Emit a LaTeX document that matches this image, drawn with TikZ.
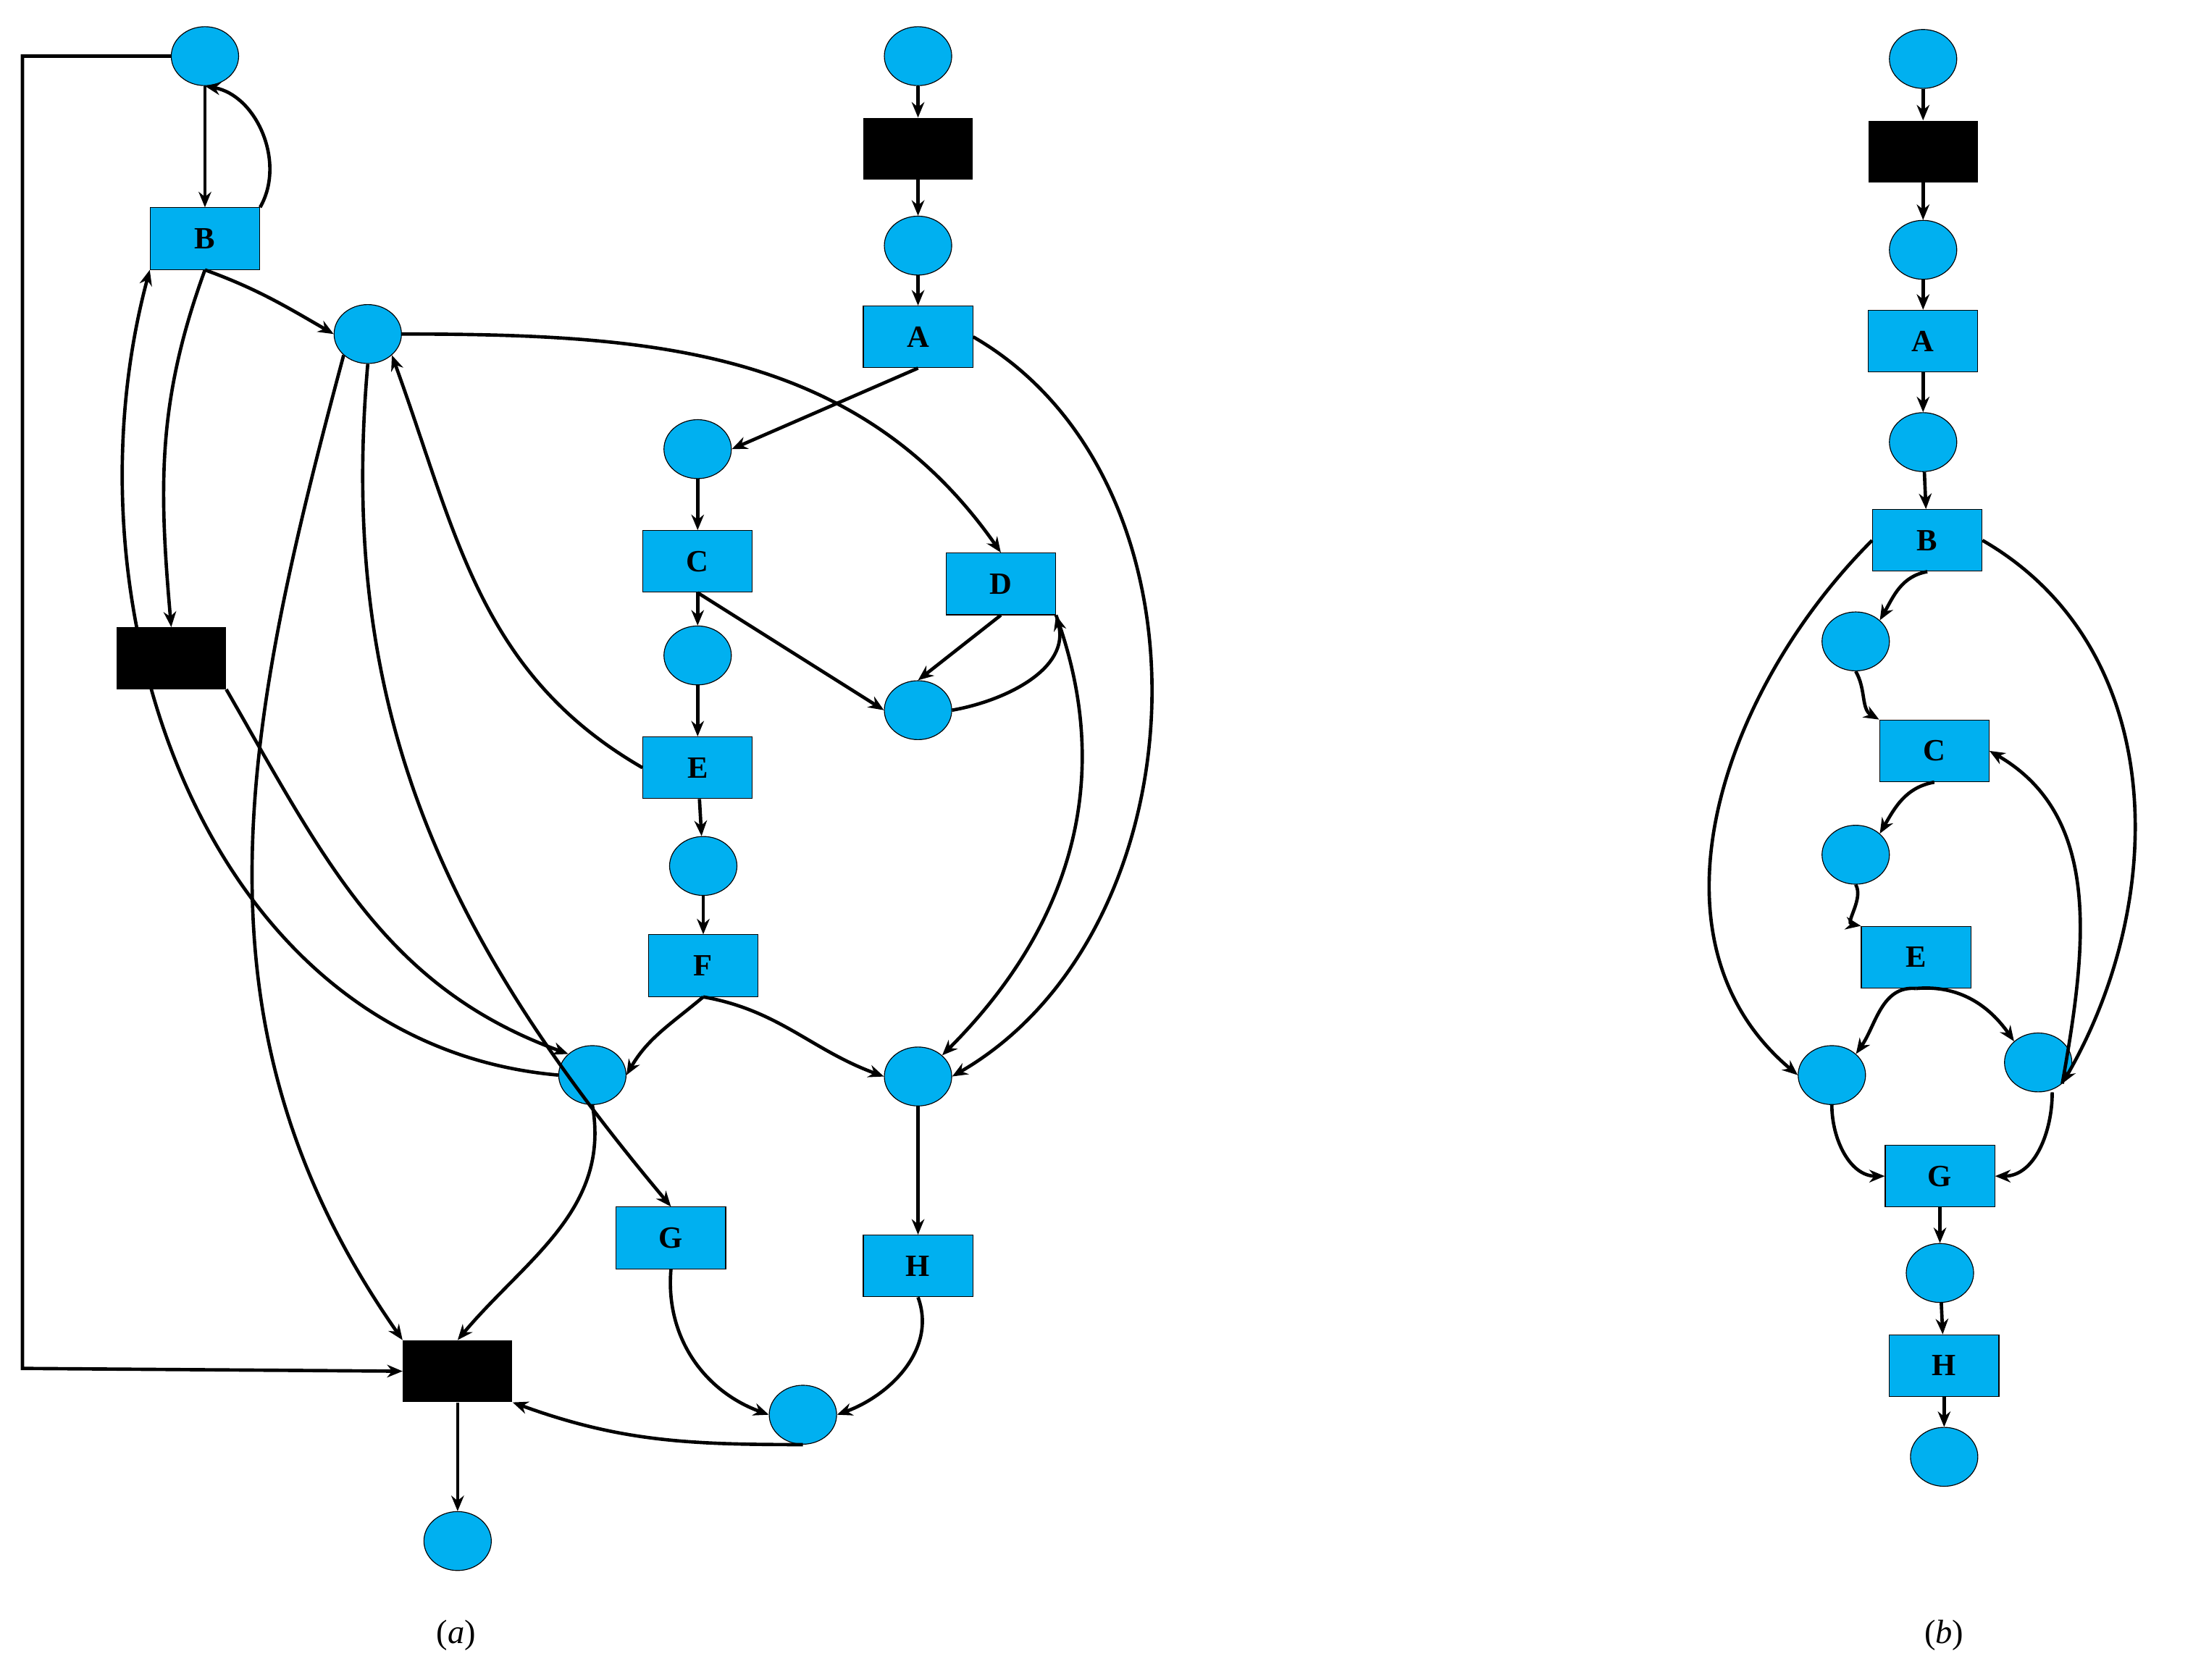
\documentclass[tikz,border=0pt]{standalone}
\usepackage{fontspec}
\setmainfont{Liberation Serif}
\usetikzlibrary{arrows.meta,shapes.geometric}
\definecolor{cy}{RGB}{0,176,240}
\begin{document}
\begin{tikzpicture}[x=1pt,y=-1pt,
 pl/.style={ellipse,draw=black,line width=0.6pt,fill=cy,minimum width=48pt,minimum height=42pt,inner sep=0},
 tr/.style={rectangle,draw=black,line width=0.6pt,fill=cy,minimum width=78pt,minimum height=44pt,inner sep=0,font=\fontsize{22}{26}\selectfont\bfseries},
 bk/.style={rectangle,fill=black,minimum width=78pt,minimum height=44pt,inner sep=0},
 e/.style={-{Stealth[length=11pt,width=9pt]},line width=2.4pt}]
\useasboundingbox (0,0) rectangle (1568,1197);
% (a)
\node[pl] (p1) at (146,40) {};
\node[tr] (B) at (146,170) {B};
\node[pl] (p2) at (262,238) {};
\node[bk] (k1) at (122,469) {};
\node[pl] (t2) at (654,40) {};
\node[bk] (k2) at (654,106) {};
\node[pl] (p3) at (654,175) {};
\node[tr] (A) at (654,240) {A};
\node[pl] (pC) at (497,320) {};
\node[tr] (C) at (497,400) {C};
\node[pl] (pE) at (497,467) {};
\node[tr] (E) at (497,547) {E};
\node[pl] (pF) at (501,617) {};
\node[tr] (F) at (501,688) {F};
\node[tr] (D) at (713,416) {D};
\node[pl] (pD) at (654,506) {};
\node[pl] (pG) at (422,766) {};
\node[pl] (pH) at (654,767) {};
\node[tr] (G) at (478,882) {G};
\node[tr] (H) at (654,902) {H};
\node[pl] (pJ) at (572,1008) {};
\node[bk] (k3) at (326,977) {};
\node[pl] (pe) at (326,1098) {};
\node[font=\fontsize{24}{28}\selectfont] (la) at (325,1165) {(\textit{a})};
\node[font=\fontsize{24}{28}\selectfont] (lb) at (1385,1165) {(\textit{b})};
\coordinate (c1) at (16,40); \coordinate (c2) at (16,975);
\draw[e] (p1) -- (B);
\draw[e] (B.north east) to[out=60,in=-10] (p1.south);
\draw[e] (p1.west) -- (c1) -- (c2) -- (k3.west);
\draw[e] (B.south) to[out=-20,in=150] (p2.west);
\draw[e] (B.south) to[out=-110,in=95] (k1.north);
\draw[e] (k1.south east) to[out=-60,in=160] (pG.north west);
\draw[e] (pG.west) to[out=175,in=-105] (B.south west);
\draw[e] (pG.south) to[out=-80,in=50] (k3.north);
\draw[e] (F.south) to[out=-140,in=60] (pG.east);
\draw[e] (F.south) to[out=-10,in=160] (pH.west);
\draw[e] (p2.south west) to[out=-105,in=125] (k3.north west);
\draw[e] (p2.south) to[out=-95,in=130] (G.north);
\draw[e] (E.west) to[out=150,in=-70] (p2.south east);
\draw[e] (p2.east) to[out=0,in=125] (D.north);
\draw[e] (A.south) -- (pC.east);
\draw[e] (A.east) to[out=-30,in=30] (pH.east);
\draw[e] (C.south) -- (pD.west);
\draw[e] (D.south) -- (pD.north);
\draw[e] (pD.east) to[out=10,in=-75] (D.south east);
\draw[e] (D.south east) to[out=-70,in=45] (pH.north east);
\draw[e] (pH) -- (H);
\draw[e] (H.south) to[out=-70,in=20] (pJ.east);
\draw[e] (G.south) to[out=-95,in=160] (pJ.west);
\draw[e] (pJ.south) to[out=-180,in=-20] (k3.south east);
\draw[e] (k3) -- (pe);
\draw[e] (t2)--(k2); \draw[e] (k2)--(p3); \draw[e] (p3)--(A);
\draw[e] (pC)--(C); \draw[e] (C)--(pE); \draw[e] (pE)--(E); \draw[e] (E)--(pF); \draw[e] (pF)--(F);
% (b)
\node[pl] (q1) at (1370,42) {};
\node[bk] (bk) at (1370,108) {};
\node[pl] (q2) at (1370,178) {};
\node[tr] (bA) at (1370,243) {A};
\node[pl] (q3) at (1370,315) {};
\node[tr] (bB) at (1373,385) {B};
\node[pl] (q4) at (1322,457) {};
\node[tr] (bC) at (1378,535) {C};
\node[pl] (q5) at (1322,609) {};
\node[tr] (bE) at (1365,682) {E};
\node[pl] (q6) at (1305,766) {};
\node[pl] (q7) at (1452,757) {};
\node[tr] (bG) at (1382,838) {G};
\node[pl] (q8) at (1382,907) {};
\node[tr] (bH) at (1385,973) {H};
\node[pl] (q9) at (1385,1038) {};
\draw[e] (q1)--(bk); \draw[e] (bk)--(q2); \draw[e] (q2)--(bA); \draw[e] (bA)--(q3); \draw[e] (q3)--(bB);
\draw[e] (bB.south) to[out=-170,in=60] (q4.north east);
\draw[e] (q4.south) to[out=-60,in=150] (bC.north west);
\draw[e] (bC.south) to[out=-170,in=60] (q5.north east);
\draw[e] (q5.south) to[out=-60,in=170] (bE.north west);
\draw[e] (bE.south) to[out=175,in=55] (q6.north east);
\draw[e] (bE.south) to[out=5,in=125] (q7.north west);
\draw[e] (q7.south east) to[out=80,in=-30] (bC.east);
\draw[e] (bB.west) to[out=-135,in=140] (q6.west);
\draw[e] (bB.east) to[out=-30,in=60] (q7.south east);
\draw[e] (q6.south) to[out=-90,in=180] (bG.west);
\draw[e] ([xshift=10pt]q7.south) to[out=-90,in=0] (bG.east);
\draw[e] (bG)--(q8); \draw[e] (q8)--(bH); \draw[e] (bH)--(q9);
\end{tikzpicture}
\end{document}
